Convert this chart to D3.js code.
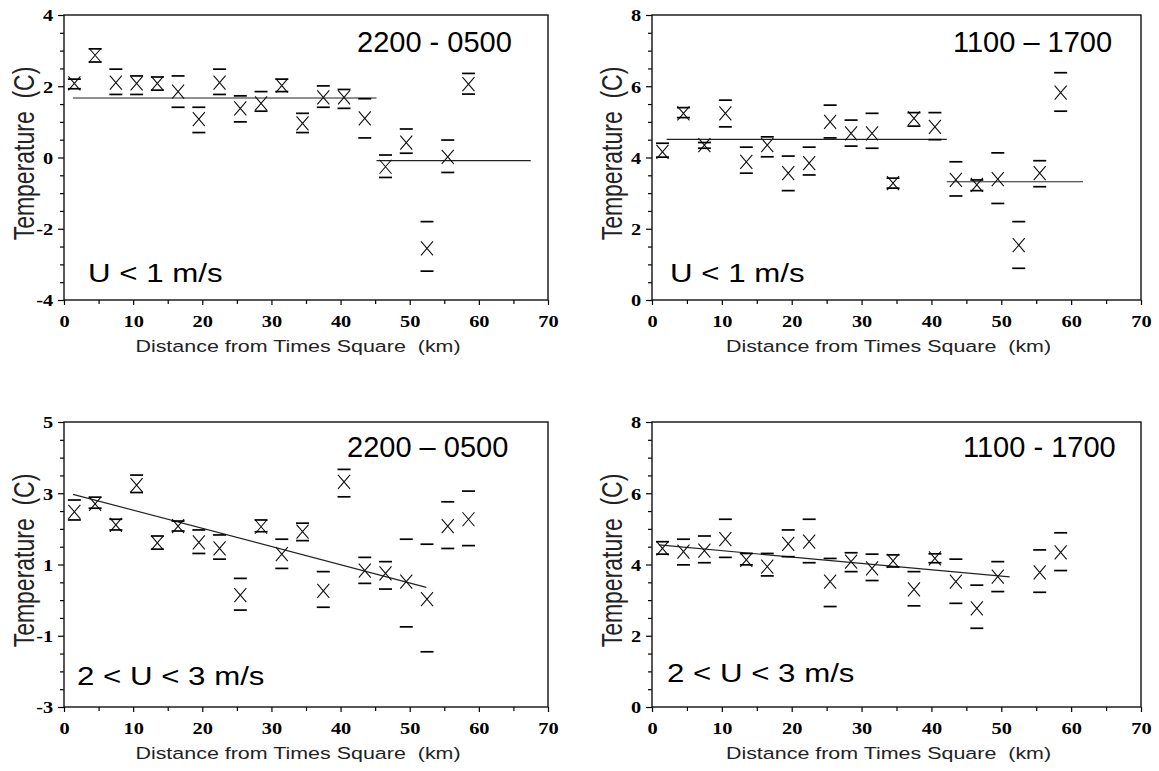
<!DOCTYPE html>
<html>
<head>
<meta charset="utf-8">
<script src="https://cdn.jsdelivr.net/npm/d3@7"></script>
<style>
  body { margin: 0; background: #fff; }
  svg { display: block; }
  text { white-space: pre; }
</style>
</head>
<body>
<svg id="chart" width="1159" height="771"></svg>
<script>
// Urban heat island: temperature excess vs distance from Times Square,
// four panels (night/day x calm/windy). X = mean, dashes = error bounds.

const distanceKm = [1.5, 4.5, 7.5, 10.5, 13.5, 16.5, 19.5, 22.5, 25.5, 28.5,
                    31.5, 34.5, 37.5, 40.5, 43.5, 46.5, 49.5, 52.5, 55.5, 58.5];

// U < 1 m/s, 2200 - 0500
const calmNightMean = [2.08, 2.87, 2.10, 2.08, 2.08, 1.85, 1.08, 2.10, 1.38, 1.52, 2.02, 0.96, 1.69, 1.69, 1.10, -0.26, 0.42, -2.55, 0.02, 2.06];
const calmNightHi   = [2.20, 3.05, 2.48, 2.29, 2.26, 2.29, 1.41, 2.48, 1.73, 1.85, 2.20, 1.24, 2.01, 1.91, 1.65, 0.07, 0.80, -1.80, 0.49, 2.36];
const calmNightLo   = [1.93, 2.68, 1.77, 1.77, 1.89, 1.41, 0.70, 1.77, 1.00, 1.30, 1.85, 0.70, 1.41, 1.38, 0.55, -0.56, 0.12, -3.19, -0.42, 1.78];
const calmNightFit  = [[[1.3, 1.67], [45.2, 1.67]], [[45.2, -0.09], [67.5, -0.09]]];

// U < 1 m/s, 1100 - 1700
const calmDayMean = [4.16, 5.24, 4.35, 5.24, 3.88, 4.35, 3.56, 3.84, 5.00, 4.68, 4.68, 3.28, 5.10, 4.86, 3.37, 3.23, 3.39, 1.54, 3.56, 5.82];
const calmDayHi   = [4.40, 5.40, 4.42, 5.61, 4.29, 4.58, 4.04, 4.29, 5.47, 5.05, 5.24, 3.42, 5.26, 5.26, 3.88, 3.37, 4.13, 2.20, 3.91, 6.38];
const calmDayLo   = [4.01, 5.12, 4.26, 4.86, 3.56, 4.02, 3.07, 3.51, 4.55, 4.32, 4.26, 3.14, 4.88, 4.50, 2.92, 3.07, 2.71, 0.89, 3.18, 5.30];
const calmDayFit  = [[[2.1, 4.51], [42.2, 4.51]], [[42.2, 3.32], [61.7, 3.32]]];

// 2 < U < 3 m/s, 2200 - 0500
const windNightMean = [2.48, 2.70, 2.11, 3.23, 1.61, 2.08, 1.62, 1.45, 0.14, 2.06, 1.29, 1.92, 0.26, 3.32, 0.83, 0.75, 0.52, 0.03, 2.08, 2.27];
const windNightHi   = [2.81, 2.89, 2.27, 3.51, 1.80, 2.22, 1.97, 1.83, 0.61, 2.25, 1.71, 2.16, 0.80, 3.67, 1.20, 1.08, 1.71, 1.57, 2.76, 3.06];
const windNightLo   = [2.25, 2.58, 1.97, 3.02, 1.43, 1.94, 1.31, 1.15, -0.28, 1.92, 0.89, 1.67, -0.20, 2.90, 0.47, 0.31, -0.75, -1.45, 1.45, 1.53];
const windNightFit  = [[[1.3, 2.97], [52.4, 0.36]]];

// 2 < U < 3 m/s, 1100 - 1700 (no station value at 52.5 km)
const windDayMean = [4.45, 4.36, 4.39, 4.71, 4.13, 3.94, 4.58, 4.64, 3.52, 4.08, 3.89, 4.10, 3.30, 4.17, 3.52, 2.77, 3.66, null, 3.78, 4.34];
const windDayHi   = [4.64, 4.71, 4.80, 5.27, 4.31, 4.31, 4.97, 5.27, 4.17, 4.33, 4.29, 4.27, 3.80, 4.30, 4.15, 3.42, 4.08, null, 4.41, 4.89];
const windDayLo   = [4.29, 3.99, 4.05, 4.20, 3.99, 3.68, 4.22, 4.05, 2.82, 3.80, 3.55, 3.93, 2.84, 4.05, 2.91, 2.21, 3.24, null, 3.22, 3.83];
const windDayFit  = [[[1.0, 4.55], [51.2, 3.65]]];

const xMajorTicks = [0, 10, 20, 30, 40, 50, 60, 70];
const xMinorTicks = [5, 15, 25, 35, 45, 55, 65];

const panels = [
  { left: 64, top: 15, width: 484, yDomain: [-4, 4], mean: calmNightMean, hi: calmNightHi, lo: calmNightLo, fits: calmNightFit,
    period: "2200 - 0500", periodDx: 293, periodDy: 37, wind: "U < 1 m/s", windDx: 24, windDy: -18 },
  { left: 652, top: 15, width: 489, yDomain: [0, 8], mean: calmDayMean, hi: calmDayHi, lo: calmDayLo, fits: calmDayFit,
    period: "1100 \u2013 1700", periodDx: 301, periodDy: 37, wind: "U < 1 m/s", windDx: 18, windDy: -18 },
  { left: 64, top: 422, width: 484, yDomain: [-3, 5], mean: windNightMean, hi: windNightHi, lo: windNightLo, fits: windNightFit,
    period: "2200 \u2013 0500", periodDx: 283, periodDy: 35, wind: "2 < U < 3 m/s", windDx: 13, windDy: -22 },
  { left: 652, top: 422, width: 489, yDomain: [0, 8], mean: windDayMean, hi: windDayHi, lo: windDayLo, fits: windDayFit,
    period: "1100 - 1700", periodDx: 311, periodDy: 35, wind: "2 < U < 3 m/s", windDx: 15, windDy: -25 },
];

const PLOT_H = 285;
const SX = 1.25;            // the source picture is stretched sideways
const SANS = "'Liberation Sans', Arial, sans-serif";
const SERIF = "'Liberation Serif', 'Times New Roman', serif";
const plain = (d) => String(d); // hyphen minus, like the original

const svg = d3.select("#chart");
svg.append("rect").attr("width", 1159).attr("height", 771).attr("fill", "#fff");

function drawPanel(p) {
  const g = svg.append("g").attr("transform", `translate(${p.left},${p.top})`);
  const x = d3.scaleLinear().domain([0, 70]).range([0, p.width]);
  const y = d3.scaleLinear().domain(p.yDomain).range([PLOT_H, 0]);

  const [y0, y1] = p.yDomain;
  const yMajor = d3.range(y0, y1 + 0.01, 2);
  const yMinor = d3.range(y0, y1 + 0.01, 0.5).filter((v) => !yMajor.includes(v));

  // minor ticks first, then labelled ones
  g.append("g").attr("transform", `translate(0,${PLOT_H})`)
    .call(d3.axisBottom(x).tickValues(xMinorTicks).tickSize(4).tickSizeOuter(0).tickFormat(""));
  const xa = g.append("g").attr("transform", `translate(0,${PLOT_H})`)
    .call(d3.axisBottom(x).tickValues(xMajorTicks).tickSize(5).tickSizeOuter(0).tickPadding(10).tickFormat(plain));
  g.append("g").call(d3.axisLeft(y).tickValues(yMinor).tickSize(4).tickSizeOuter(0).tickFormat(""));
  const ya = g.append("g")
    .call(d3.axisLeft(y).tickValues(yMajor).tickSize(6).tickSizeOuter(0).tickPadding(3).tickFormat(plain));

  g.selectAll(".domain").remove();
  g.selectAll(".tick line").attr("stroke", "#000").attr("stroke-width", 1.2);
  [xa, ya].forEach((a) => a.selectAll("text")
    .attr("font-family", SERIF).attr("font-weight", "bold").attr("font-size", 17)
    .attr("fill", "#000").attr("transform", `scale(${SX * 0.96},1)`));
  ya.selectAll("text").attr("dy", "0.34em");

  // frame
  g.append("rect").attr("width", p.width).attr("height", PLOT_H)
    .attr("fill", "none").attr("stroke", "#111").attr("stroke-width", 1.4);

  // fit lines
  const line = d3.line().x((d) => x(d[0])).y((d) => y(d[1]));
  g.selectAll("path.fit").data(p.fits).join("path")
    .attr("class", "fit").attr("d", line)
    .attr("fill", "none").attr("stroke", "#222").attr("stroke-width", 1.2);

  // points
  const pts = distanceKm.map((d, i) => ({ d, m: p.mean[i], hi: p.hi[i], lo: p.lo[i] }))
    .filter((o) => o.m != null);
  const pg = g.selectAll("g.pt").data(pts).join("g").attr("class", "pt");
  pg.append("path")
    .attr("d", (o) => { const cx = x(o.d), cy = y(o.m);
      return `M${cx - 6},${cy - 7}L${cx + 6},${cy + 7}M${cx - 6},${cy + 7}L${cx + 6},${cy - 7}`; })
    .attr("fill", "none").attr("stroke", "#111").attr("stroke-width", 1.1);
  ["hi", "lo"].forEach((k) => {
    pg.append("line")
      .attr("x1", (o) => x(o.d) - 6.5).attr("x2", (o) => x(o.d) + 6.5)
      .attr("y1", (o) => y(o[k])).attr("y2", (o) => y(o[k]))
      .attr("stroke", "#000").attr("stroke-width", 1.7);
  });

  // corner labels
  g.append("text").attr("transform", `translate(${p.periodDx},${p.periodDy})`)
    .attr("font-family", SANS).attr("font-size", 29).attr("fill", "#000").text(p.period);
  g.append("text").attr("transform", `translate(${p.windDx},${PLOT_H + p.windDy}) scale(${SX},1)`)
    .attr("font-family", SANS).attr("font-size", 25).attr("fill", "#000").text(p.wind);

  // axis titles
  g.append("text").attr("transform", `translate(-30,${PLOT_H / 2 - 4}) scale(${SX},1) rotate(-90)`)
    .attr("text-anchor", "middle").attr("font-family", SANS).attr("font-size", 23).attr("fill", "#222")
    .text("Temperature  (C)");
  g.append("text").attr("transform", `translate(${p.width / 2 - 8},${PLOT_H + 52}) scale(1.3,1)`)
    .attr("text-anchor", "middle").attr("font-family", SANS).attr("font-size", 16.5).attr("fill", "#222")
    .text("Distance from Times Square  (km)");
}

panels.forEach(drawPanel);
</script>
</body>
</html>
